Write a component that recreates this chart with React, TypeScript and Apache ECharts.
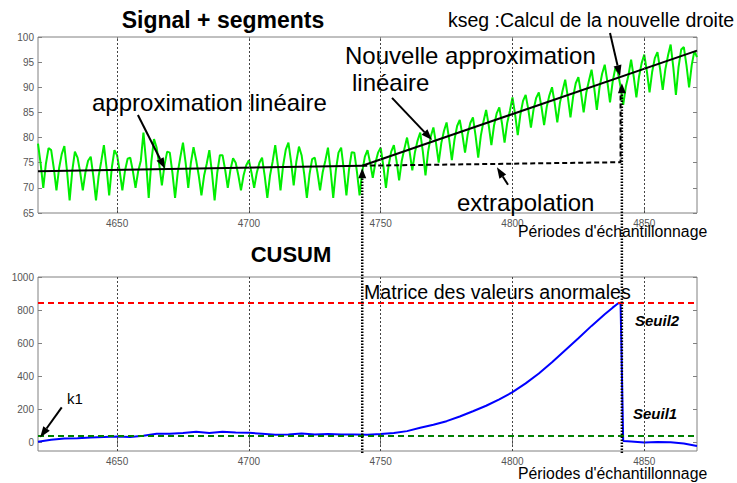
import React, { useEffect, useRef } from 'react';
import * as echarts from 'echarts';

const FONT = '"Liberation Sans", Arial, Helvetica, sans-serif';

// ---- data ----
const X_START = 4620;
const X_END = 4870;
// green signal, one value per sampling period (4620 ... 4870)
const signal = [
  78.8, 74.8, 70.0, 74.8, 77.9,
  77.5, 73.9, 69.5, 73.9, 76.7,
  78.3, 73.4, 67.5, 73.4, 77.2,
  76.0, 73.1, 69.5, 73.1, 75.4,
  76.2, 72.3, 67.5, 72.3, 75.3,
  78.5, 74.0, 68.5, 74.0, 77.5,
  76.5, 73.3, 69.5, 73.4, 75.8,
  76.0, 73.3, 70.0, 73.3, 75.4,
  81.0, 75.2, 68.0, 75.2, 79.7,
  78.0, 74.6, 70.5, 74.6, 77.2,
  77.0, 73.0, 68.0, 73.0, 76.1,
  79.0, 75.0, 70.0, 75.0, 78.1,
  75.5, 72.4, 68.5, 72.4, 74.8,
  77.5, 73.0, 67.5, 73.0, 76.5,
  76.5, 73.6, 70.0, 73.6, 75.9,
  75.0, 72.5, 69.5, 72.5, 74.5,
  75.5, 73.0, 70.0, 73.0, 75.0,
  76.0, 72.4, 68.0, 72.4, 75.2,
  78.5, 74.5, 69.5, 74.5, 77.6,
  79.0, 75.2, 70.5, 75.2, 78.2,
  76.5, 72.7, 68.0, 72.7, 75.7,
  76.0, 73.1, 69.5, 73.1, 75.4,
  78.0, 73.5, 68.0, 73.5, 77.0,
  78.0, 73.7, 68.5, 73.7, 77.1,
  77.0, 73.2, 68.5, 73.2, 76.2,
  77.5, 75.0, 72.0, 75.0, 77.0,
  78.0, 74.4, 70.0, 74.4, 77.2,
  78.5, 75.4, 71.5, 75.4, 77.8,
  80.0, 77.1, 73.5, 77.1, 79.4,
  81.0, 77.2, 72.5, 77.2, 80.2,
  82.0, 78.9, 75.0, 78.9, 81.3,
  83.0, 79.6, 75.5, 79.6, 82.3,
  83.5, 80.6, 77.0, 80.6, 82.9,
  84.0, 80.4, 76.0, 80.4, 83.2,
  85.5, 82.4, 78.5, 82.4, 84.8,
  86.0, 82.9, 79.0, 82.9, 85.3,
  88.0, 84.6, 80.5, 84.6, 87.3,
  88.5, 85.6, 82.0, 85.6, 87.9,
  89.0, 86.1, 82.5, 86.1, 88.4,
  90.0, 86.9, 83.0, 86.9, 89.3,
  91.5, 88.1, 84.0, 88.1, 90.8,
  92.0, 88.9, 85.0, 88.9, 91.3,
  93.5, 89.9, 85.5, 89.9, 92.7,
  94.5, 91.1, 87.0, 91.1, 93.8,
  93.0, 90.1, 86.5, 90.1, 92.4,
  95.5, 92.1, 88.0, 92.1, 94.8,
  96.5, 93.1, 89.0, 93.1, 95.8,
  97.0, 93.6, 89.5, 93.6, 96.3,
  98.5, 94.0, 88.5, 94.0, 97.5,
  98.0, 94.4, 90.0, 94.4, 97.2,
  96.0,
];

const approxOldX = [4620, 4743];
const approxOldY = [73.3, 74.4];
const approxNewX = [4743, 4870];
const approxNewY = [74.4, 97.3];
const extrapX = [4743, 4841, 4841];
const extrapY = [74.4, 75.1, 90.0];

const cusumX = [4620, 4625, 4630, 4635, 4640, 4645, 4650, 4655, 4660, 4665, 4670, 4675, 4680, 4685, 4690, 4695, 4700, 4705, 4710, 4715, 4720, 4725, 4730, 4735, 4740, 4745, 4750, 4755, 4760, 4765, 4770, 4775, 4780, 4785, 4790, 4795, 4800, 4805, 4810, 4815, 4820, 4825, 4830, 4835, 4838, 4840, 4841, 4842, 4845, 4850, 4855, 4860, 4865, 4870];
const cusumY = [6, 18, 26, 27, 32, 34, 38, 34, 42, 54, 54, 58, 66, 58, 66, 62, 60, 54, 48, 50, 56, 50, 52, 50, 50, 48, 52, 58, 70, 90, 108, 130, 158, 190, 223, 262, 305, 358, 418, 486, 558, 630, 705, 775, 815, 840, 845, 10, 8, 2, 4, 3, -5, -20];

const seuil1 = 42;
const seuil2 = 843;
const kDetect = 4743;
const kSeg = 4841.5;

const xTicks = [4650, 4700, 4750, 4800, 4850];
const yTicksTop = [65, 70, 75, 80, 85, 90, 95, 100];
const yTicksBottom = [0, 200, 400, 600, 800, 1000];

// ---- helpers ----
function pairs(xs: number[], ys: number[]) {
  return xs.map((x, i) => [x, ys[i]]);
}

const labelStyle = { color: '#555', fontSize: 10, fontFamily: FONT, formatter: (v: number) => String(v) };
const tickStyle = { color: '#808080', width: 1 };

function xAxisPair(gridIndex: number) {
  return [
    {
      gridIndex, type: 'value', min: X_START, max: X_END, position: 'bottom',
      axisLine: { show: false },
      axisTick: { show: true, inside: true, length: 4, customValues: xTicks, lineStyle: tickStyle },
      axisLabel: { show: true, customValues: xTicks, margin: 5, ...labelStyle },
      splitLine: { show: false },
    },
    {
      gridIndex, type: 'value', min: X_START, max: X_END, position: 'top',
      axisLine: { show: false },
      axisTick: { show: true, inside: true, length: 4, customValues: xTicks, lineStyle: tickStyle },
      axisLabel: { show: false },
      splitLine: { show: false },
    },
  ];
}

function yAxisPair(gridIndex: number, min: number, max: number, ticks: number[]) {
  return [
    {
      gridIndex, type: 'value', min, max, position: 'left',
      axisLine: { show: false },
      axisTick: { show: true, inside: true, length: 4, customValues: ticks, lineStyle: tickStyle },
      axisLabel: { show: true, customValues: ticks, margin: 4, ...labelStyle },
      splitLine: { show: false },
    },
    {
      gridIndex, type: 'value', min, max, position: 'right',
      axisLine: { show: false },
      axisTick: { show: true, inside: true, length: 4, customValues: ticks, lineStyle: tickStyle },
      axisLabel: { show: false },
      splitLine: { show: false },
    },
  ];
}

function gridLines() {
  return {
    silent: true,
    symbol: ['none', 'none'],
    label: { show: false },
    lineStyle: { color: '#444', width: 1, type: [2, 2] },
    data: xTicks.map((v) => ({ xAxis: v })),
  };
}

export default function App() {
  const ref = useRef<HTMLDivElement>(null);

  useEffect(() => {
    if (!ref.current) return;
    const chart = echarts.init(ref.current, undefined, { renderer: 'svg' });

    const option: any = {
      animation: false,
      backgroundColor: '#ffffff',
      grid: [
        { left: 38, top: 37, width: 659, height: 176, show: true, borderColor: '#808080', borderWidth: 1 },
        { left: 38, top: 277, width: 659, height: 174, show: true, borderColor: '#808080', borderWidth: 1 },
      ],
      xAxis: [...xAxisPair(0), ...xAxisPair(1)],
      yAxis: [...yAxisPair(0, 65, 100, yTicksTop), ...yAxisPair(1, -50, 1000, yTicksBottom)],
      series: [
        {
          name: 'grid-top', type: 'line', xAxisIndex: 0, yAxisIndex: 0, data: [],
          markLine: gridLines(), silent: true,
        },
        {
          name: 'signal', type: 'line', xAxisIndex: 0, yAxisIndex: 0,
          data: signal.map((v, i) => [X_START + i, v]),
          showSymbol: false, symbol: 'none', z: 3,
          lineStyle: { color: '#00ee00', width: 2 },
        },
        {
          name: 'approx1', type: 'line', xAxisIndex: 0, yAxisIndex: 0,
          data: pairs(approxOldX, approxOldY), symbol: 'none', z: 4,
          lineStyle: { color: '#000', width: 2 },
        },
        {
          name: 'approx2', type: 'line', xAxisIndex: 0, yAxisIndex: 0,
          data: pairs(approxNewX, approxNewY), symbol: 'none', z: 4,
          lineStyle: { color: '#000', width: 2 },
        },
        {
          name: 'extrap', type: 'line', xAxisIndex: 0, yAxisIndex: 0,
          data: pairs(extrapX, extrapY), symbol: 'none', z: 4,
          lineStyle: { color: '#000', width: 2, type: [5, 3] },
        },
        {
          name: 'cusum', type: 'line', xAxisIndex: 2, yAxisIndex: 2,
          data: pairs(cusumX, cusumY), symbol: 'none', z: 4,
          lineStyle: { color: '#0000ff', width: 2 },
          markLine: {
            silent: true,
            symbol: ['none', 'none'],
            label: { show: false },
            data: [
              { yAxis: seuil2, lineStyle: { color: '#ff0000', width: 2, type: [6, 4] } },
              { yAxis: seuil1, lineStyle: { color: '#008000', width: 2, type: [6, 4] } },
              ...xTicks.map((v) => ({ xAxis: v, lineStyle: { color: '#444', width: 1, type: [2, 2] } })),
            ],
          },
        },
      ],
    };
    chart.setOption(option);

    const P0 = (x: number, y: number) => chart.convertToPixel({ xAxisIndex: 0, yAxisIndex: 0 }, [x, y]) as number[];
    const P1 = (x: number, y: number) => chart.convertToPixel({ xAxisIndex: 2, yAxisIndex: 2 }, [x, y]) as number[];

    const els: any[] = [];
    const arrow = (from: number[], to: number[], len = 11, half = 4, dash?: number[], width = 2) => {
      const dx = to[0] - from[0];
      const dy = to[1] - from[1];
      const d = Math.hypot(dx, dy) || 1;
      const ux = dx / d;
      const uy = dy / d;
      const bx = to[0] - ux * len;
      const by = to[1] - uy * len;
      els.push({
        type: 'line', z: 100,
        shape: { x1: from[0], y1: from[1], x2: bx, y2: by },
        style: { stroke: '#000', lineWidth: width, lineDash: dash },
      });
      els.push({
        type: 'polygon', z: 100,
        shape: { points: [[to[0], to[1]], [bx - uy * half, by + ux * half], [bx + uy * half, by - ux * half]] },
        style: { fill: '#000' },
      });
    };
    const text = (t: string, x: number, y: number, size: number, align = 'left', weight = 'normal', fstyle = 'normal') => {
      els.push({
        type: 'text', z: 100, x, y,
        style: {
          text: t, fill: '#000', fontSize: size, fontFamily: FONT, fontWeight: weight, fontStyle: fstyle,
          align, textAlign: align, verticalAlign: 'middle', textVerticalAlign: 'middle',
        },
      });
    };

    // thick dotted vertical lines with upward arrowheads
    arrow(P1(kDetect, -62), P0(kDetect, 73.9), 10, 4, [1.5, 1.5], 2.5);
    arrow(P1(kSeg, -62), P0(kSeg, 90.8), 10, 4, [1.5, 1.5], 2.5);

    // annotation arrows
    arrow(P0(4657.9, 84.5), P0(4668.2, 73.8));
    arrow(P0(4754.3, 87.9), P0(4769.5, 79.5));
    arrow(P0(4837, 100.8), P0(4840.8, 92.2));
    arrow(P0(4798.3, 70.6), P0(4794.1, 74.1));
    arrow(P1(4629, 213), P1(4620.8, 32));

    // texts
    text('Signal + segments', 223, 20, 23, 'center', 'bold');
    text('kseg :Calcul de la nouvelle droite', 448, 20, 19.5);
    text('Nouvelle approximation', 345, 55, 24);
    text('linéaire', 352, 82, 24);
    text('approximation linéaire', 92, 102, 24);
    text('extrapolation', 457, 202, 24);
    text("Périodes d'échantillonnage", 518, 231, 15.8);
    text('CUSUM', 291, 254, 22, 'center', 'bold');
    text('Matrice des valeurs anormales', 364, 292, 19.6);
    text('Seuil2', 635, 320, 15, 'left', 'bold', 'italic');
    text('Seuil1', 633, 413, 15, 'left', 'bold', 'italic');
    text('k1', 67, 398, 15);
    text("Périodes d'échantillonnage", 518, 473, 15.8);

    chart.setOption({ graphic: { elements: els } });

    return () => chart.dispose();
  }, []);

  return (
    <div
      ref={ref}
      style={{ position: 'absolute', left: 0, top: 0, width: 737, height: 483, background: '#fff' }}
    />
  );
}
